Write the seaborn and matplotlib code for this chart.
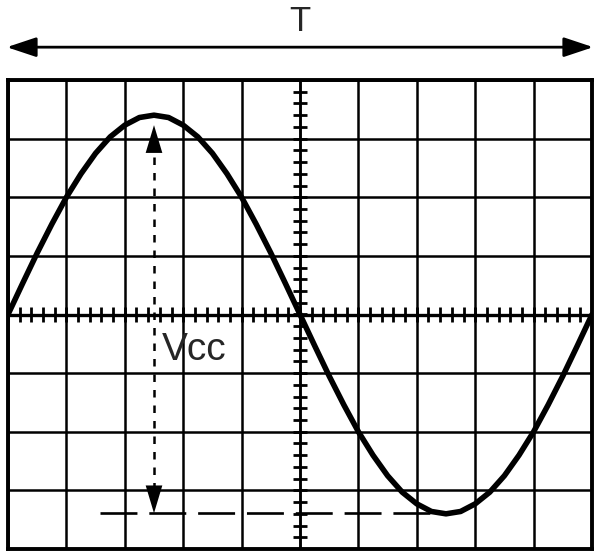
# Pantalla de osciloscopio: onda senoidal con periodo T y Vcc

import matplotlib
matplotlib.use('Agg')
import matplotlib.pyplot as plt
import seaborn as sns
import numpy as np

# Datos (divisiones de la reticula)
t_div = np.arange(0, 10.01, 0.25)
semiciclo = [0, 0.53, 1.05, 1.54, 2.00, 2.40, 2.75, 3.03, 3.23, 3.36, 3.40,
             3.36, 3.23, 3.03, 2.75, 2.40, 2.00, 1.54, 1.05, 0.53]
v_div = semiciclo + [-v for v in semiciclo] + [0]

x_vcc = 2.5          # posicion de la flecha Vcc
v_pico = 3.23        # punta superior de la flecha
v_valle = -3.39      # punta inferior / linea de referencia
ref_x = [1.58, 7.52]  # linea discontinua en el valle

sns.set_style("white")
plt.rcParams['font.family'] = ['Liberation Sans', 'DejaVu Sans']

fig = plt.figure(figsize=(5.98, 5.56), dpi=100)
ax = fig.add_axes([8 / 598, 7 / 556, 584 / 598, 469 / 556])

# Reticula
ax.set_xlim(0, 10)
ax.set_ylim(-4, 4)
ax.set_xticks(np.arange(0, 11, 1))
ax.set_yticks(np.arange(-4, 5, 1))
ax.grid(True, color='black', linewidth=1.8)
ax.tick_params(length=0, labelbottom=False, labelleft=False)
for s in ax.spines.values():
    s.set_color('black')
    s.set_linewidth(2.8)

# Marcas pequeñas en los ejes centrales
ax.vlines(np.arange(0, 10.01, 0.2), -0.12, 0.12, color='black', linewidth=2.0)
ax.hlines(np.arange(-4, 4.01, 0.2), 4.88, 5.12, color='black', linewidth=2.0)
ax.axhline(0, color='black', linewidth=2.4)
ax.axvline(5, color='black', linewidth=1.8)

# Onda
sns.lineplot(x=t_div, y=v_div, color='black', linewidth=4.0, ax=ax,
             solid_capstyle='round', solid_joinstyle='round')

# Vcc
ax.plot([x_vcc, x_vcc], [v_valle + 0.4, v_pico - 0.4], color='black',
        linewidth=1.8, linestyle=(0, (3, 3.2)))
for tip, base in [(v_pico, v_pico - 0.3), (v_valle, v_valle + 0.3)]:
    ax.annotate('', xy=(x_vcc, tip), xytext=(x_vcc, base),
                arrowprops=dict(arrowstyle='-|>,head_length=2.0,head_width=0.6',
                                color='black', lw=0, shrinkA=0, shrinkB=0))
ax.plot(ref_x, [v_valle, v_valle], color='black', linewidth=1.9,
        linestyle=(0, (14, 4.5)))
ax.text(2.64, -0.6, 'Vcc', fontsize=28, va='center', ha='left')

# Periodo T
ax.annotate('', xy=(10.02, 4.56), xytext=(-0.02, 4.56), annotation_clip=False,
            arrowprops=dict(arrowstyle='<|-|>,head_length=1.8,head_width=0.6',
                            color='black', lw=2.0, shrinkA=0, shrinkB=0))
ax.text(5, 4.99, 'T', fontsize=25, ha='center', va='center', clip_on=False)

fig.savefig('out.png', dpi=100)
